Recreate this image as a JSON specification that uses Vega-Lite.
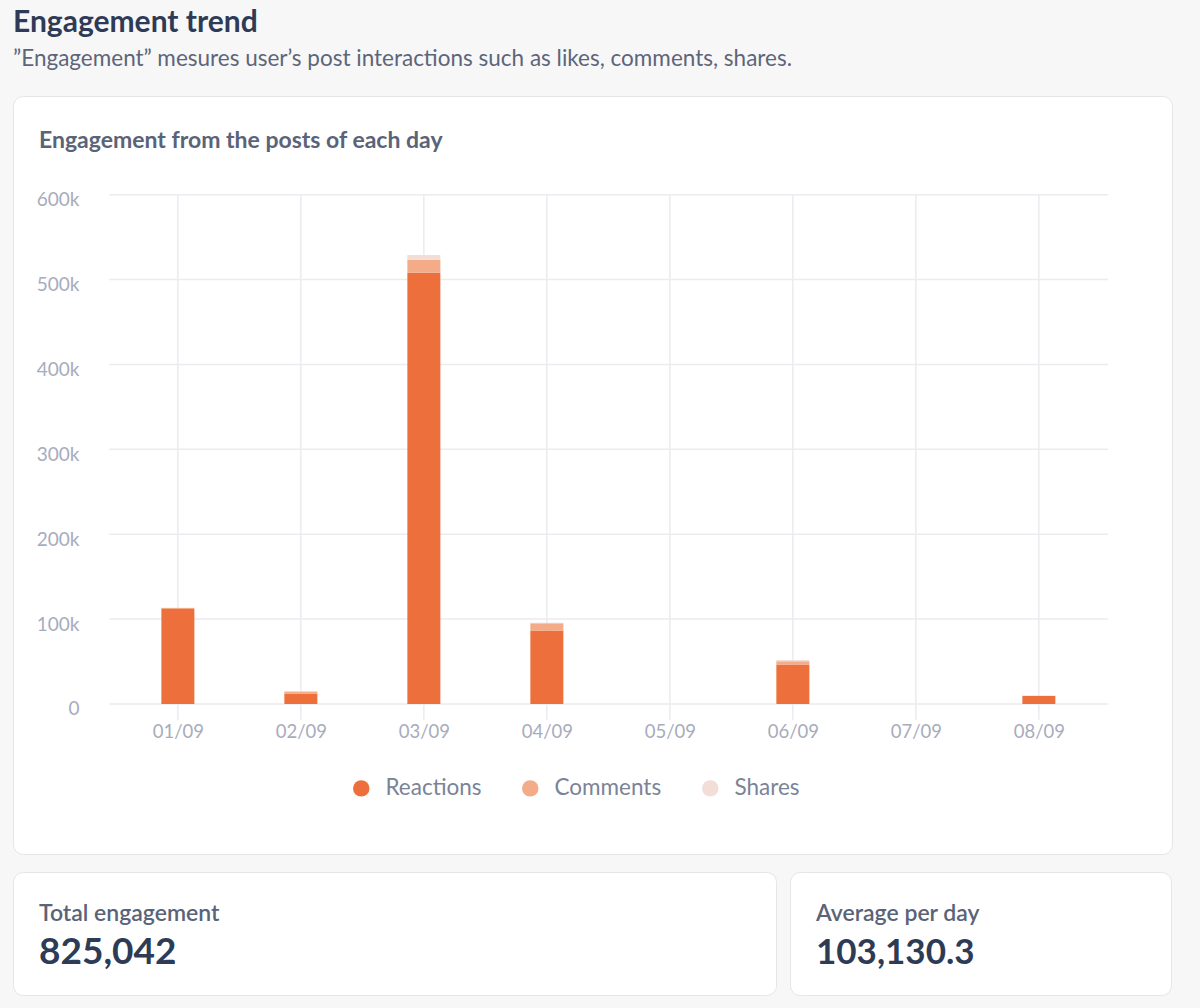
{
  "$schema": "https://vega.github.io/schema/vega-lite/v6.json",
  "background": "#f7f7f8",
  "padding": {"left": 12, "top": 8, "right": 29, "bottom": 13},
  "title": {
    "text": "Engagement trend",
    "subtitle": "”Engagement” mesures user’s post interactions such as likes, comments, shares.",
    "anchor": "start",
    "frame": "group",
    "font": "Lato",
    "fontSize": 30,
    "fontWeight": "bold",
    "color": "#2f3b56",
    "subtitleFont": "Lato",
    "subtitleFontSize": 22.5,
    "subtitleColor": "#5d6579",
    "subtitlePadding": 10,
    "offset": 25
  },
  "datasets": {
    "engagement": [
      {"date": "01/09", "day": 1, "type": "Reactions", "value": 112000},
      {"date": "01/09", "day": 1, "type": "Comments", "value": 1200},
      {"date": "01/09", "day": 1, "type": "Shares", "value": 300},
      {"date": "02/09", "day": 2, "type": "Reactions", "value": 12300},
      {"date": "02/09", "day": 2, "type": "Comments", "value": 2500},
      {"date": "02/09", "day": 2, "type": "Shares", "value": 400},
      {"date": "03/09", "day": 3, "type": "Reactions", "value": 508000},
      {"date": "03/09", "day": 3, "type": "Comments", "value": 15000},
      {"date": "03/09", "day": 3, "type": "Shares", "value": 6000},
      {"date": "04/09", "day": 4, "type": "Reactions", "value": 86500},
      {"date": "04/09", "day": 4, "type": "Comments", "value": 8500},
      {"date": "04/09", "day": 4, "type": "Shares", "value": 600},
      {"date": "05/09", "day": 5, "type": "Reactions", "value": 0},
      {"date": "05/09", "day": 5, "type": "Comments", "value": 0},
      {"date": "05/09", "day": 5, "type": "Shares", "value": 0},
      {"date": "06/09", "day": 6, "type": "Reactions", "value": 46500},
      {"date": "06/09", "day": 6, "type": "Comments", "value": 4000},
      {"date": "06/09", "day": 6, "type": "Shares", "value": 1200},
      {"date": "07/09", "day": 7, "type": "Reactions", "value": 0},
      {"date": "07/09", "day": 7, "type": "Comments", "value": 0},
      {"date": "07/09", "day": 7, "type": "Shares", "value": 0},
      {"date": "08/09", "day": 8, "type": "Reactions", "value": 9500},
      {"date": "08/09", "day": 8, "type": "Comments", "value": 250},
      {"date": "08/09", "day": 8, "type": "Shares", "value": 100}
    ],
    "summary": [
      {"metric": "Total engagement", "value": 825042},
      {"metric": "Average per day", "value": 103130.3}
    ],
    "ticks": [
      {"tick": 0}, {"tick": 100000}, {"tick": 200000}, {"tick": 300000},
      {"tick": 400000}, {"tick": 500000}, {"tick": 600000}
    ]
  },
  "spacing": 16,
  "vconcat": [
    {
      "width": 1159,
      "height": 758,
      "title": {
        "text": "Engagement from the posts of each day",
        "anchor": "start",
        "frame": "group",
        "dx": 26,
        "offset": -75,
        "baseline": "alphabetic",
        "font": "Lato",
        "fontSize": 23,
        "fontWeight": "bold",
        "color": "#5a6378"
      },
      "layer": [
        {
          "data": {"name": "ticks"},
          "mark": {"type": "rule", "color": "#ebebf0", "strokeWidth": 1.5},
          "encoding": {
            "y": {
              "field": "tick", "type": "quantitative",
              "scale": {"domain": [-176714, 716279], "nice": false, "zero": false},
              "axis": {"title": null, "values": [0, 100000, 200000, 300000, 400000, 500000, 600000], "labelExpr": "datum.value === 0 ? '0' : (datum.value / 1000) + 'k'", "offset": -66, "domain": false, "ticks": false, "tickSize": 0, "grid": false, "labelPadding": 0, "labelFontSize": 19, "labelColor": "#a7acbd", "labelOffset": 5}
            },
            "x": {
              "datum": 0.4416, "type": "quantitative",
              "scale": {"domain": [-0.2998, 9.0419], "nice": false, "zero": false},
              "axis": {"title": null, "values": [1, 2, 3, 4, 5, 6, 7, 8], "labelExpr": "'0' + datum.value + '/09'", "offset": -150, "domain": false, "ticks": false, "tickSize": 0, "grid": false, "labelPadding": 18, "labelFontSize": 18.5, "labelColor": "#a7acbd", "labelFlush": false, "labelOverlap": false}
            },
            "x2": {"datum": 8.564}
          }
        },
        {
          "data": {"name": "engagement"},
          "transform": [{"filter": "datum.type === 'Reactions'"}],
          "mark": {"type": "rule", "color": "#ebebf0", "strokeWidth": 1.5},
          "encoding": {
            "x": {"field": "day", "type": "quantitative"},
            "y": {"datum": 600000, "type": "quantitative"},
            "y2": {"datum": -18500}
          }
        },
        {
          "data": {"name": "engagement"},
          "transform": [{"calculate": "indexof(['Reactions', 'Comments', 'Shares'], datum.type)", "as": "stack_order"}],
          "mark": {"type": "bar", "width": 33},
          "encoding": {
            "x": {"field": "day", "type": "quantitative"},
            "y": {"field": "value", "type": "quantitative", "stack": "zero"},
            "order": {"field": "stack_order", "type": "quantitative", "sort": "ascending"},
            "color": {
              "field": "type", "type": "nominal",
              "sort": ["Reactions", "Comments", "Shares"],
              "scale": {"domain": ["Reactions", "Comments", "Shares"], "range": ["#ed6f3c", "#f3ab88", "#f2ded7"]},
              "legend": {"title": null, "orient": "none", "legendX": 337, "legendY": 681, "direction": "horizontal", "symbolType": "circle", "symbolSize": 270, "symbolStrokeWidth": 0, "symbolOpacity": 1, "labelFont": "Lato", "labelFontSize": 22.5, "labelColor": "#7b8396", "labelOffset": 13, "columnPadding": 37, "padding": 0}
            }
          }
        }
      ]
    },
    {
      "spacing": 12,
      "hconcat": [
        {
          "width": 763,
          "height": 123,
          "data": {"name": "summary"},
          "transform": [{"filter": "datum.metric === 'Total engagement'"}],
          "layer": [
            {
              "mark": {"type": "text", "align": "left", "baseline": "alphabetic", "font": "Lato", "fontSize": 23, "fontWeight": 600, "color": "#5a6378"},
              "encoding": {
                "text": {"field": "metric", "type": "nominal"},
                "x": {"field": "metric", "type": "nominal", "scale": {"type": "point", "align": 0.0341, "padding": 0.5}, "axis": null},
                "y": {"datum": "label", "type": "nominal", "scale": {"type": "point", "domain": ["label", "value"], "padding": 0.9302, "align": 0.6125}, "axis": null}
              }
            },
            {
              "mark": {"type": "text", "align": "left", "baseline": "alphabetic", "font": "Lato", "fontSize": 37, "fontWeight": "bold", "color": "#2e3b55"},
              "encoding": {
                "text": {"field": "value", "type": "quantitative", "format": ",.1~f"},
                "x": {"field": "metric", "type": "nominal", "scale": {"type": "point", "align": 0.0341, "padding": 0.5}, "axis": null},
                "y": {"datum": "value", "type": "nominal", "scale": {"type": "point", "domain": ["label", "value"], "padding": 0.9302, "align": 0.6125}, "axis": null}
              }
            }
          ]
        },
        {
          "width": 381,
          "height": 123,
          "data": {"name": "summary"},
          "transform": [{"filter": "datum.metric === 'Average per day'"}],
          "layer": [
            {
              "mark": {"type": "text", "align": "left", "baseline": "alphabetic", "font": "Lato", "fontSize": 23, "fontWeight": 600, "color": "#5a6378"},
              "encoding": {
                "text": {"field": "metric", "type": "nominal"},
                "x": {"field": "metric", "type": "nominal", "scale": {"type": "point", "align": 0.0682, "padding": 0.5}, "axis": null},
                "y": {"datum": "label", "type": "nominal", "scale": {"type": "point", "domain": ["label", "value"], "padding": 0.9302, "align": 0.6125}, "axis": null}
              }
            },
            {
              "mark": {"type": "text", "align": "left", "baseline": "alphabetic", "font": "Lato", "fontSize": 35, "fontWeight": "bold", "color": "#2e3b55"},
              "encoding": {
                "text": {"field": "value", "type": "quantitative", "format": ",.1~f"},
                "x": {"field": "metric", "type": "nominal", "scale": {"type": "point", "align": 0.0682, "padding": 0.5}, "axis": null},
                "y": {"datum": "value", "type": "nominal", "scale": {"type": "point", "domain": ["label", "value"], "padding": 0.9302, "align": 0.6125}, "axis": null}
              }
            }
          ]
        }
      ]
    }
  ],
  "config": {
    "font": "Lato",
    "view": {"fill": "#ffffff", "stroke": "#e5e5ea", "strokeWidth": 1, "cornerRadius": 10}
  }
}
